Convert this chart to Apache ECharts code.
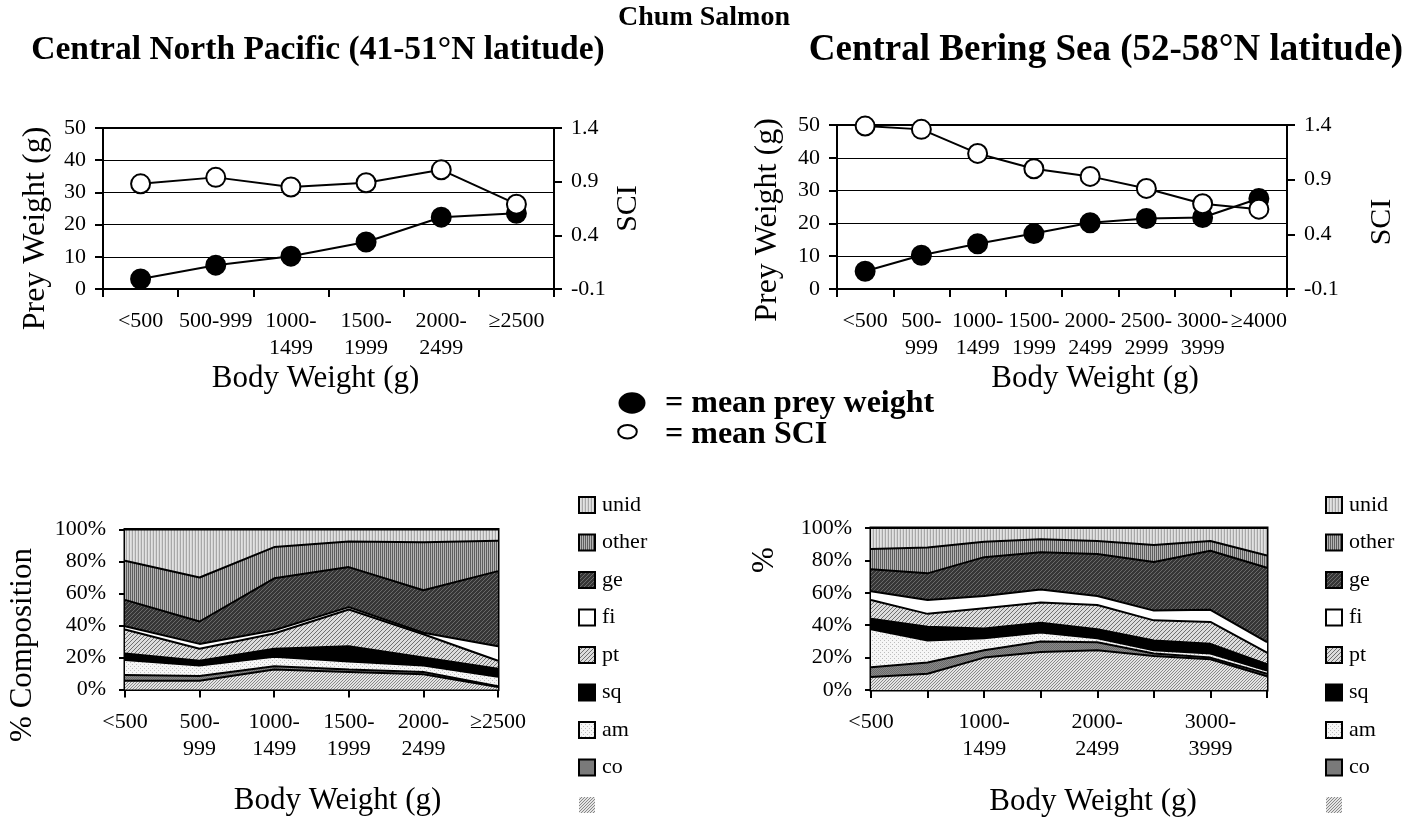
<!DOCTYPE html>
<html>
<head>
<meta charset="utf-8">
<script src="https://cdn.jsdelivr.net/npm/echarts@6/dist/echarts.min.js"></script>
<style>
html,body{margin:0;padding:0;background:#fff;}
#c{width:1408px;height:822px;}
</style>
</head>
<body>
<div id="c"></div>
<script>
// ---------- DATA ----------
const catTL = ['<500','500-999','1000-\n1499','1500-\n1999','2000-\n2499','\u22652500'];
const preyTL = [3.1, 7.4, 10.2, 14.6, 22.3, 23.5];
const sciTL = [0.88, 0.94, 0.85, 0.89, 1.01, 0.69];

const catTR = ['<500','500-\n999','1000-\n1499','1500-\n1999','2000-\n2499','2500-\n2999','3000-\n3999','\u22654000'];
const preyTR = [5.4, 10.3, 13.8, 16.9, 20.2, 21.5, 21.8, 27.6];
const sciTR = [1.39, 1.36, 1.14, 1.00, 0.93, 0.82, 0.68, 0.63];

const sciTicks = [-0.1, 0.4, 0.9, 1.4];

const catBL = ['<500','500-\n999','1000-\n1499','1500-\n1999','2000-\n2499','\u22652500'];
const blankBL = [5.5, 5.5, 12.5, 11, 9.5, 1.5];
const coBL    = [3.5, 3, 2, 1.5, 1.5, 0.5];
const amBL    = [9.5, 6.5, 6, 5, 4, 6];
const sqBL    = [4, 3, 5, 9.5, 5, 5];
const ptBL    = [15, 7.5, 9.5, 23, 14.5, 5];
const fiBL    = [2, 3, 2, 1.5, 1, 9];
const geBL    = [16.5, 14, 32.5, 25, 26.5, 47];
const otherBL = [24.5, 27.5, 19.5, 16, 30, 19];
const unidBL  = [19.5, 30, 11, 7.5, 8, 7];

const catBR = ['<500','500-\n999','1000-\n1499','1500-\n1999','2000-\n2499','2500-\n2999','3000-\n3999','\u22654000'];
const blankBR = [8, 10, 20, 23.5, 24.5, 21, 19, 8.5];
const coBR    = [6, 7, 4.5, 6.5, 5, 1.5, 1, 1.5];
const amBR    = [23.5, 13.5, 7.5, 5.5, 2.5, 2, 2.5, 2];
const sqBR    = [6.5, 8.5, 6, 6, 5.5, 6, 6, 4];
const ptBR    = [11.5, 8, 12.5, 12.5, 15, 12.5, 13.5, 7];
const fiBR    = [5.5, 8.5, 7.5, 8, 5.5, 6, 7.5, 6.5];
const geBR    = [13.5, 16.5, 24, 23, 26, 30, 36.5, 46];
const otherBR = [12.5, 16, 9.5, 8, 8, 10.5, 6, 7.5];
const unidBR  = [13, 12, 8.5, 7, 8, 10.5, 8, 17];

const legendNames = ['unid','other','ge','fi','pt','sq','am','co',' '];

// ---------- PATTERNS ----------
function makePattern(w, h, draw){
  const c = document.createElement('canvas');
  c.width = w; c.height = h;
  const ctx = c.getContext('2d');
  draw(ctx, w, h);
  return {image: c, repeat: 'repeat'};
}
function px(ctx, x, y, col){ ctx.fillStyle = col; ctx.fillRect(x, y, 1, 1); }
const pat = {
  ' ': makePattern(3, 3, (ctx)=>{ ctx.fillStyle='#e4e4e4'; ctx.fillRect(0,0,3,3); for(let i=0;i<3;i++) px(ctx,i,2-i,'#888'); }),
  'co': makePattern(2, 2, (ctx)=>{ ctx.fillStyle='#8a8a8a'; ctx.fillRect(0,0,2,2); px(ctx,0,0,'#6a6a6a'); px(ctx,1,1,'#6a6a6a'); }),
  'am': makePattern(4, 4, (ctx)=>{ ctx.fillStyle='#f6f6f6'; ctx.fillRect(0,0,4,4); px(ctx,0,0,'#bdbdbd'); px(ctx,2,2,'#bdbdbd'); }),
  'sq': '#000',
  'pt': makePattern(4, 4, (ctx)=>{ ctx.fillStyle='#dcdcdc'; ctx.fillRect(0,0,4,4); for(let i=0;i<4;i++){ px(ctx,i,3-i,'#6e6e6e'); } }),
  'fi': '#fff',
  'ge': makePattern(4, 4, (ctx)=>{ ctx.fillStyle='#363636'; ctx.fillRect(0,0,4,4); for(let i=0;i<4;i++){ px(ctx,i,3-i,'#6a6a6a'); } }),
  'other': makePattern(2, 1, (ctx)=>{ px(ctx,0,0,'#5e5e5e'); px(ctx,1,0,'#b4b4b4'); }),
  'unid': makePattern(3, 1, (ctx)=>{ px(ctx,0,0,'#a8a8a8'); px(ctx,1,0,'#e2e2e2'); px(ctx,2,0,'#d4d4d4'); })
};

// ---------- STYLE HELPERS ----------
const FF = "'Liberation Serif','Times New Roman',serif";
const txt = (size, extra) => Object.assign({color:'#000', fontFamily: FF, fontSize: size}, extra || {});
const axisLineS = {show:true, lineStyle:{color:'#000', width:2}};

function catAxis(grid, data, boundaryGap, labelInterval, nameGap, namePad){
  return {
    type:'category', gridIndex:grid, data:data, boundaryGap:boundaryGap,
    axisLine: axisLineS,
    axisTick:{show:true, inside:false, length:8, interval:0, lineStyle:{color:'#000', width:2}},
    axisLabel: Object.assign({interval:labelInterval, margin:19, lineHeight:27}, txt(22)),
    splitLine:{show:false},
    name:'Body Weight (g)', nameLocation:'middle', nameGap:nameGap,
    nameTextStyle: txt(31, {padding: namePad})
  };
}
function preyAxis(grid, nameGap, namePad){
  return {
    type:'value', gridIndex:grid, position:'left', min:0, max:50, interval:10,
    axisLine: axisLineS,
    axisTick:{show:true, inside:false, length:8, lineStyle:{color:'#000', width:2}},
    axisLabel: Object.assign({margin:17}, txt(22)),
    splitLine:{show:true, lineStyle:{color:'#000', width:1}},
    name:'Prey Weight (g)', nameLocation:'middle', nameRotate:90, nameGap:nameGap,
    nameTextStyle: txt(32, {padding: namePad})
  };
}
function sciAxis(grid, nameGap, namePad){
  return {
    type:'value', gridIndex:grid, position:'right', min:-0.1, max:1.4,
    axisLine: axisLineS,
    axisTick:{show:true, inside:false, length:8, customValues: sciTicks, lineStyle:{color:'#000', width:2}},
    axisLabel: Object.assign({margin:17, customValues: sciTicks}, txt(22)),
    splitLine:{show:false},
    name:'SCI', nameLocation:'middle', nameRotate:90, nameGap:nameGap,
    nameTextStyle: txt(30, {padding: namePad})
  };
}
function pctAxis(grid, name, nameGap, namePad){
  return {
    type:'value', gridIndex:grid, min:0, max:100, interval:20,
    axisLine: axisLineS,
    axisTick:{show:true, inside:false, length:6, lineStyle:{color:'#000', width:2}},
    axisLabel: Object.assign({margin:19, formatter:'{value}%'}, txt(22)),
    splitLine:{show:false},
    name:name, nameLocation:'middle', nameRotate:90, nameGap:nameGap,
    nameTextStyle: txt(31, {padding: namePad})
  };
}
function lineSeries(xi, yi, data, fill){
  return {
    type:'line', xAxisIndex:xi, yAxisIndex:yi, data:data,
    symbol:'circle', symbolSize:19, silent:true,
    lineStyle:{color:'#000', width:2},
    itemStyle:{color:fill, borderColor:'#000', borderWidth:2}
  };
}
function areaSeries(name, xi, yi, stack, data){
  return {
    type:'line', name:name, xAxisIndex:xi, yAxisIndex:yi, stack:stack, data:data,
    symbol:'none', silent:true,
    lineStyle:{color:'#000', width:2},
    itemStyle:{color: pat[name]},
    areaStyle:{color: pat[name], opacity:1}
  };
}
function legendBlock(left){
  return {
    orient:'vertical', left:left, top:494, padding:0, itemWidth:16, itemHeight:16, itemGap:15.5,
    selectedMode:false,
    textStyle: txt(22, {lineHeight:22, padding:[0,0,0,2]}),
    data: legendNames.map(n => ({
      name:n, icon:'rect',
      itemStyle: n === ' ' ? {color: pat[n], borderWidth:0} : {color: pat[n], borderColor:'#000', borderWidth:2}
    }))
  };
}

const seriesBL = [
  areaSeries(' ', 2, 4, 'L', blankBL),
  areaSeries('co', 2, 4, 'L', coBL),
  areaSeries('am', 2, 4, 'L', amBL),
  areaSeries('sq', 2, 4, 'L', sqBL),
  areaSeries('pt', 2, 4, 'L', ptBL),
  areaSeries('fi', 2, 4, 'L', fiBL),
  areaSeries('ge', 2, 4, 'L', geBL),
  areaSeries('other', 2, 4, 'L', otherBL),
  areaSeries('unid', 2, 4, 'L', unidBL)
];
const seriesBR = [
  areaSeries(' ', 3, 5, 'R', blankBR),
  areaSeries('co', 3, 5, 'R', coBR),
  areaSeries('am', 3, 5, 'R', amBR),
  areaSeries('sq', 3, 5, 'R', sqBR),
  areaSeries('pt', 3, 5, 'R', ptBR),
  areaSeries('fi', 3, 5, 'R', fiBR),
  areaSeries('ge', 3, 5, 'R', geBR),
  areaSeries('other', 3, 5, 'R', otherBR),
  areaSeries('unid', 3, 5, 'R', unidBR)
];

const chart = echarts.init(document.getElementById('c'), null, {renderer:'canvas'});
const option = {
  animation:false,
  backgroundColor:'#fff',
  grid:[
    {left:103, top:128, width:451, height:161, show:true, borderColor:'#000', borderWidth:2, backgroundColor:'transparent'},
    {left:837, top:125, width:450, height:164, show:true, borderColor:'#000', borderWidth:2, backgroundColor:'transparent'},
    {left:125, top:529.5, width:373, height:160, show:true, borderColor:'#000', borderWidth:3, backgroundColor:'transparent'},
    {left:871, top:528, width:396, height:162, show:true, borderColor:'#000', borderWidth:3, backgroundColor:'transparent'}
  ],
  xAxis:[
    catAxis(0, catTL, true, 0, 67, [0,26,0,0]),
    catAxis(1, catTR, true, 0, 67, [0,0,0,66]),
    catAxis(2, catBL, false, 0, 96, [0,0,0,52]),
    catAxis(3, catBR, false, 1, 96, [0,0,0,48])
  ],
  yAxis:[
    preyAxis(0, 51, [0,40,0,0]),
    sciAxis(0, 59, [0,0,0,0]),
    preyAxis(1, 53, [0,26,0,0]),
    sciAxis(1, 80, [0,30,0,0]),
    pctAxis(2, '% Composition', 87, [0,71,0,0]),
    pctAxis(3, '%', 91, [0,0,0,98])
  ],
  legend:[ legendBlock(578), legendBlock(1325) ],
  series:[
    lineSeries(0, 0, preyTL, '#000'),
    lineSeries(0, 1, sciTL, '#fff'),
    lineSeries(1, 2, preyTR, '#000'),
    lineSeries(1, 3, sciTR, '#fff')
  ].concat(seriesBL, seriesBR),
  graphic:[
    {type:'text', x:704, y:18, style:{text:'Chum Salmon', fill:'#000', font:"bold 28px 'Liberation Serif', serif", align:'center', verticalAlign:'middle', textAlign:'center', textVerticalAlign:'middle'}},
    {type:'text', x:318, y:50, style:{text:'Central North Pacific (41-51\u00B0N latitude)', fill:'#000', font:"bold 33.5px 'Liberation Serif', serif", align:'center', verticalAlign:'middle', textAlign:'center', textVerticalAlign:'middle'}},
    {type:'text', x:1106, y:50, style:{text:'Central Bering Sea (52-58\u00B0N latitude)', fill:'#000', font:"bold 37px 'Liberation Serif', serif", align:'center', verticalAlign:'middle', textAlign:'center', textVerticalAlign:'middle'}},
    {type:'ellipse', shape:{cx:632, cy:403, rx:13.5, ry:10.7}, style:{fill:'#000'}},
    {type:'ellipse', shape:{cx:627.5, cy:431.7, rx:9.3, ry:6.8}, style:{fill:'#fff', stroke:'#000', lineWidth:2}},
    {type:'text', x:665, y:404, style:{text:'= mean prey weight', fill:'#000', font:"bold 32px 'Liberation Serif', serif", align:'left', verticalAlign:'middle', textAlign:'left', textVerticalAlign:'middle'}},
    {type:'text', x:665, y:435, style:{text:'= mean SCI', fill:'#000', font:"bold 32px 'Liberation Serif', serif", align:'left', verticalAlign:'middle', textAlign:'left', textVerticalAlign:'middle'}}
  ]
};
chart.setOption(option);
</script>
</body>
</html>
